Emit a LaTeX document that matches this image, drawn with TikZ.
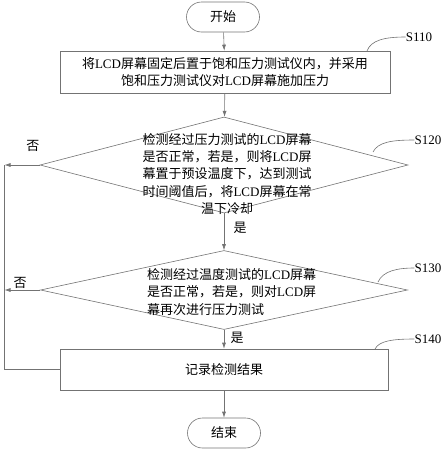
\documentclass[tikz,border=0pt]{standalone}
\usepackage{fontspec}
\setmainfont{Noto Sans CJK SC}
\newfontfamily\tnr{Liberation Serif}
\usetikzlibrary{shapes.geometric,arrows.meta}
\newcommand{\lcd}{{\tnr LCD}}

\tikzset{
	flowline/.style={draw=black!55, line width=0.6pt},
	terminal/.style={flowline, rectangle, rounded corners=15pt, minimum width=73pt, minimum height=30pt, inner sep=0pt},
	stepbox/.style={flowline, rectangle, inner sep=0pt, align=center},
	decision/.style={flowline, diamond, inner sep=0pt},
	steptext/.style={inner sep=0pt},
	steplabel/.style={font=\fontsize{13}{16}\selectfont\tnr, inner sep=0pt},
	arr/.style={flowline, -{Latex[length=6pt,width=4pt]}}
}

\begin{document}
\begin{tikzpicture}[x=1pt, y=-1pt, font=\fontsize{13}{17.3}\selectfont]
		\useasboundingbox (0,0) rectangle (446,450);

		\node[terminal] (start) at (223,17) {开始};
		\node[stepbox, minimum width=330pt, minimum height=42pt] (s110) at (225,72)
			{将\lcd 屏幕固定后置于饱和压力测试仪内，并采用\\饱和压力测试仪对\lcd 屏幕施加压力};
		\node[decision, minimum width=368pt, minimum height=96pt] (d120) at (224,165) {};
		\node[steptext, align=center] (t120) at (227,174)
			{检测经过压力测试的\lcd 屏幕\\是否正常，若是，则将\lcd 屏\\幕置于预设温度下，达到测试\\时间阈值后，将\lcd 屏幕在常\\温下冷却};
		\node[decision, minimum width=367pt, minimum height=79pt] (d130) at (224,290) {};
		\node[steptext, align=left, anchor=west] (t130) at (147,292)
			{检测经过温度测试的\lcd 屏幕\\是否正常，若是，则对\lcd 屏\\幕再次进行压力测试};
		\node[stepbox, minimum width=328pt, minimum height=41pt] (s140) at (224,369.5) {记录检测结果};
		\node[terminal] (stop) at (224,433) {结束};

		% step labels
		\node[steplabel] (l110) at (419,37) {S110};
		\node[steplabel] (l120) at (428,140) {S120};
		\node[steplabel] (l130) at (428,268) {S130};
		\node[steplabel] (l140) at (428,339) {S140};
		\coordinate (c110) at (367,51);
		\coordinate (c120) at (373,152);
		\coordinate (c130) at (378,282);
		\coordinate (c140) at (375,349);
		\draw[flowline] (c110) .. controls (371,40) and (385,37) .. (l110.west);
		\draw[flowline] (c120) .. controls (378,142) and (392,140) .. (l120.west);
		\draw[flowline] (c130) .. controls (383,271) and (397,268) .. (l130.west);
		\draw[flowline] (c140) .. controls (379,341) and (392,339) .. (l140.west);

		% main flow
		\draw[arr] (start) -- (s110);
		\draw[arr] (s110) -- (d120);
		\draw[arr] (d120) -- (d130);
		\draw[arr] (d130) -- (s140);
		\draw[arr] (s140) -- (stop);
		\node (y120) at (240,228) {是};
		\node (y130) at (237,338) {是};

		% no branch
		\coordinate (n120) at (4.5,165);
		\coordinate (n130) at (4.5,290);
		\draw[arr] (d120.west) -- (n120);
		\draw[arr] (d130.west) -- (n130);
		\draw[flowline] (s140.west) -| (n120);
		\node (f120) at (33,146) {否};
		\node (f130) at (20,283) {否};
\end{tikzpicture}
\end{document}
